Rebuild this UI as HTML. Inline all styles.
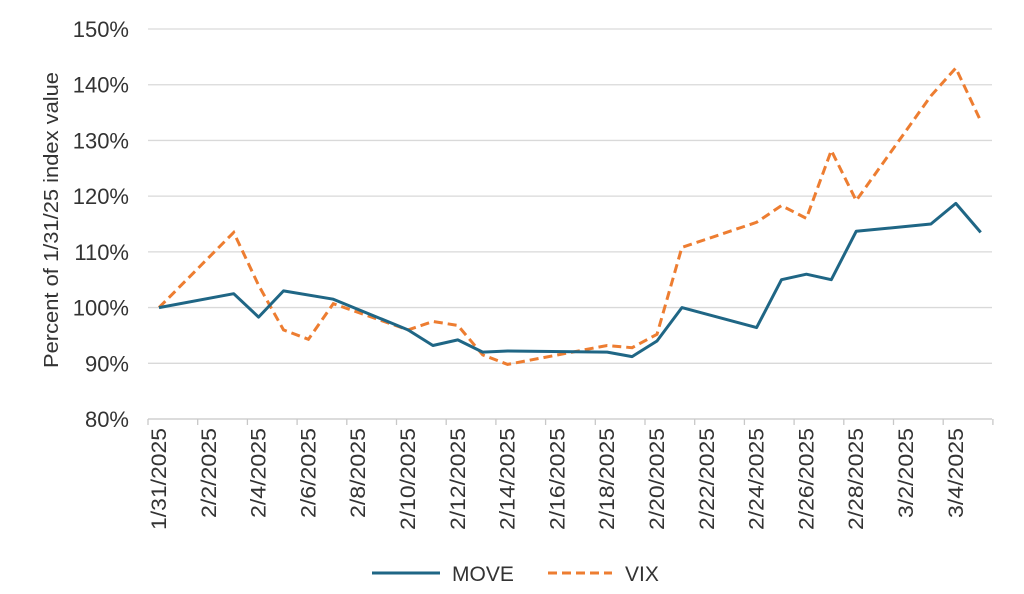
<!DOCTYPE html>
<html><head><meta charset="utf-8"><style>
html,body{margin:0;padding:0;background:#fff;}
svg{display:block;font-family:"Liberation Sans",Arial,sans-serif;}
</style></head><body>
<svg id="c" width="1024" height="594" viewBox="0 0 1024 594" xmlns="http://www.w3.org/2000/svg"></svg>
<script>
const s=document.getElementById('c');let h='';
const Y=v=>419-(v-80)*5.571;const X=d=>159+d*24.9;
for(let v=80;v<=150;v+=10){const y=Y(v);
 if(v>80)h+=`<line x1="148" x2="992" y1="${y}" y2="${y}" stroke="#d9d9d9" stroke-width="1.3"/>`;
 h+=`<text x="129" y="${y+8}" text-anchor="end" font-size="22" fill="#333">${v}%</text>`;}
h+=`<line x1="148" x2="992" y1="419" y2="419" stroke="#c8c8c8" stroke-width="1.3"/>`;
for(let k=0;k<=17;k++){const x=148+k*49.7;h+=`<line x1="${x}" x2="${x}" y1="419" y2="425" stroke="#c8c8c8" stroke-width="1.3"/>`;}
const labs=['1/31/2025','2/2/2025','2/4/2025','2/6/2025','2/8/2025','2/10/2025','2/12/2025','2/14/2025','2/16/2025','2/18/2025','2/20/2025','2/22/2025','2/24/2025','2/26/2025','2/28/2025','3/2/2025','3/4/2025'];
labs.forEach((l,i)=>{const x=X(i*2)+7;const n=l.length;const L=n==9?102:(n==8?90:80);h+=`<text transform="translate(${x},428) rotate(-90)" text-anchor="end" font-size="21" fill="#333" textLength="${L}" lengthAdjust="spacingAndGlyphs">${l}</text>`;});
h+=`<text transform="translate(58,220) rotate(-90)" text-anchor="middle" font-size="20" fill="#333" textLength="296" lengthAdjust="spacingAndGlyphs">Percent of 1/31/25 index value</text>`;
const mv={0:100,3:102.5,4:98.3,5:103,7:101.5,10:96,11:93.2,12:94.2,13:92,14:92.2,18:92,19:91.2,20:94,21:100,24:96.4,25:105,26:106,27:105,28:113.7,31:115,32:118.7,33:113.5};
const vx={0:100,3:113.5,4:104,5:96,6:94.3,7:100.7,10:96,11:97.5,12:96.8,13:91.5,14:89.8,18:93.2,19:92.8,20:95.2,21:110.8,24:115.3,25:118.3,26:116,27:128.2,28:119.2,31:138,32:143,33:133.5};
const pts=o=>Object.keys(o).map(Number).sort((a,b)=>a-b).map(d=>X(d).toFixed(1)+','+Y(o[d]).toFixed(1)).join(' ');
h+=`<polyline points="${pts(vx)}" fill="none" stroke="#ed7d31" stroke-width="3" stroke-dasharray="9,5"/>`;
h+=`<polyline points="${pts(mv)}" fill="none" stroke="#1f6685" stroke-width="3" stroke-linejoin="round"/>`;
h+=`<line x1="372" x2="440" y1="573" y2="573" stroke="#1f6685" stroke-width="3"/><text x="452" y="581" font-size="21" fill="#333">MOVE</text>`;
h+=`<line x1="548" x2="612" y1="573" y2="573" stroke="#ed7d31" stroke-width="3" stroke-dasharray="9,5"/><text x="625" y="581" font-size="21" fill="#333">VIX</text>`;
s.innerHTML=h;
</script>
</body></html>
